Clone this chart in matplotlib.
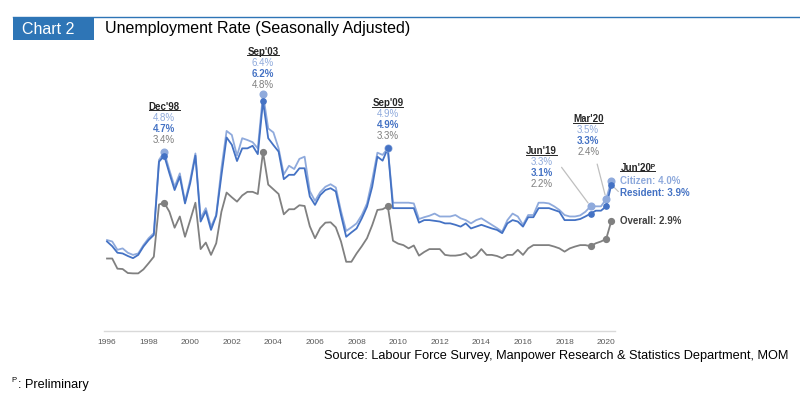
import numpy as np
import pandas as pd
import matplotlib
matplotlib.use('Agg')
import matplotlib.pyplot as plt
from matplotlib.lines import Line2D
from matplotlib.patches import Rectangle

plt.rcParams['font.family'] = ['Liberation Sans', 'DejaVu Sans']

# quarterly, seasonally adjusted (%), 1996Q1 - 2020Q2
quarters = pd.period_range('1996Q1', '2020Q2', freq='Q')

citizen = [2.37, 2.33, 2.10, 2.14, 2.02, 1.96, 2.00, 2.23, 2.42, 2.56,
           4.58, 4.80, 4.30, 3.84, 4.21, 3.43, 4.03, 4.76, 2.97, 3.25,
           2.74, 3.06, 4.35, 5.38, 5.27, 4.70, 5.18, 5.13, 5.07, 4.90,
           6.40, 5.45, 5.34, 4.90, 4.18, 4.42, 4.33, 4.61, 4.67, 3.72,
           3.45, 3.69, 3.84, 3.91, 3.82, 3.17, 2.62, 2.72, 2.83, 3.06,
           3.38, 4.03, 4.78, 4.72, 4.90, 3.40, 3.40, 3.40, 3.40, 3.38,
           2.95, 3.00, 3.04, 3.10, 3.02, 3.02, 3.02, 3.06, 2.97, 2.92,
           2.83, 2.92, 2.97, 2.88, 2.79, 2.70, 2.60, 2.92, 3.10, 3.02,
           2.79, 3.06, 3.06, 3.40, 3.40, 3.38, 3.30, 3.20, 3.06, 3.02,
           3.02, 3.05, 3.15, 3.30, 3.30, 3.30, 3.50, 4.00]

resident = [2.33, 2.20, 2.02, 2.00, 1.93, 1.87, 1.96, 2.19, 2.37, 2.51,
            4.53, 4.70, 4.21, 3.75, 4.12, 3.38, 3.94, 4.70, 2.88, 3.17,
            2.65, 3.04, 4.15, 5.20, 5.00, 4.55, 4.90, 4.90, 4.97, 4.74,
            6.20, 5.18, 4.99, 4.81, 4.05, 4.17, 4.17, 4.35, 4.35, 3.57,
            3.34, 3.61, 3.75, 3.80, 3.71, 3.06, 2.46, 2.58, 2.69, 2.97,
            3.29, 3.84, 4.67, 4.56, 4.90, 3.25, 3.25, 3.25, 3.25, 3.25,
            2.85, 2.92, 2.92, 2.90, 2.88, 2.83, 2.83, 2.79, 2.74, 2.83,
            2.69, 2.74, 2.79, 2.74, 2.69, 2.65, 2.56, 2.83, 2.92, 2.88,
            2.74, 3.00, 3.00, 3.25, 3.25, 3.25, 3.20, 3.15, 2.92, 2.92,
            2.92, 2.95, 3.02, 3.10, 3.18, 3.18, 3.30, 3.90]

overall = [1.86, 1.86, 1.58, 1.57, 1.46, 1.45, 1.45, 1.56, 1.73, 1.91,
           3.35, 3.40, 3.15, 2.71, 3.02, 2.46, 2.92, 3.40, 2.12, 2.30,
           1.96, 2.28, 3.15, 3.68, 3.55, 3.43, 3.60, 3.70, 3.70, 3.64,
           4.80, 3.90, 3.77, 3.64, 3.08, 3.22, 3.22, 3.33, 3.31, 2.75,
           2.42, 2.70, 2.85, 2.86, 2.72, 2.33, 1.77, 1.77, 2.00, 2.20,
           2.42, 2.78, 3.20, 3.22, 3.30, 2.35, 2.27, 2.23, 2.14, 2.22,
           1.94, 2.04, 2.12, 2.12, 2.12, 1.96, 1.94, 1.94, 1.96, 2.01,
           1.87, 1.95, 2.12, 1.96, 1.96, 1.93, 1.87, 1.96, 1.96, 2.10,
           1.96, 2.14, 2.23, 2.23, 2.23, 2.23, 2.19, 2.14, 2.05, 2.14,
           2.19, 2.23, 2.23, 2.20, 2.28, 2.33, 2.40, 2.90]

year_ticks = list(range(1996, 2021, 2))

# highlighted quarters and where their text blocks sit (pixel offset from citizen dot)
highlights = [("Dec'98", '1998Q4', (0, 45)),
              ("Sep'03", '2003Q3', (0, 42)),
              ("Sep'09", '2009Q3', (0, 45)),
              ("Jun'19", '2019Q2', (-49, 55)),
              ("Mar'20", '2020Q1', (-18, 80))]
latest_label = "Jun'20ᴾ"

c_cit = '#8FAADC'
c_res = '#4472C4'
c_all = '#808080'
c_head = '#2E75B6'

t = quarters.year + (quarters.quarter - 1) / 4.0

fig = plt.figure(figsize=(8.0, 3.97), dpi=100)
ax = fig.add_axes([103.9 / 800, 66 / 397, 510.6 / 800, 258.75 / 397])

ax.plot(t, overall, color=c_all, lw=1.3, zorder=2)
ax.plot(t, citizen, color=c_cit, lw=1.3, zorder=3)
ax.plot(t, resident, color=c_res, lw=1.3, zorder=4)

ax.set_xlim(1995.85, 2020.4)
ax.set_ylim(-0.14, 7.0)
for s in ['top', 'right', 'left']:
    ax.spines[s].set_visible(False)
ax.spines['bottom'].set_color('#D9D9D9')
ax.spines['bottom'].set_linewidth(1.0)
ax.set_yticks([])
ax.set_xticks(year_ticks)
ax.set_xticklabels([str(y) for y in year_ticks])
ax.tick_params(axis='x', length=0, pad=6, labelsize=6, labelcolor='#595959')

date_texts = []
step = 11
for label, q, (dx, dy) in highlights:
    i = list(quarters.astype(str)).index(q)
    x = t[i]
    ax.plot(x, overall[i], 'o', color=c_all, ms=4.2, zorder=5, clip_on=False)
    ax.plot(x, citizen[i], 'o', color=c_cit, ms=4.8, zorder=6, clip_on=False)
    ax.plot(x, resident[i], 'o', color=c_res, ms=3.8, zorder=7, clip_on=False)
    rows = [(label, '#262626', 'bold'),
            ('%.1f%%' % citizen[i], c_cit, 'normal'),
            ('%.1f%%' % resident[i], c_res, 'bold'),
            ('%.1f%%' % overall[i], '#7F7F7F', 'normal')]
    for k, (txt, col, w) in enumerate(rows):
        tx = ax.annotate(txt, xy=(x, citizen[i]), xytext=(dx, dy - k * step),
                         textcoords='offset pixels', ha='center', va='center',
                         fontsize=7, color=col, fontweight=w)
        if k == 0:
            date_texts.append(tx)
    if dx != 0:
        start = (dx + 20, dy - 16) if label == "Jun'19" else (dx + 9, dy - 45)
        ax.annotate('', xy=(x, citizen[i]), xytext=start, textcoords='offset pixels',
                    arrowprops=dict(arrowstyle='-', color='#BFBFBF', lw=0.9,
                                    shrinkA=0, shrinkB=3))

# latest quarter
x = t[-1]
ax.plot(x, overall[-1], 'o', color=c_all, ms=4.2, zorder=5, clip_on=False)
ax.plot(x, citizen[-1], 'o', color=c_cit, ms=4.8, zorder=6, clip_on=False)
ax.plot(x, resident[-1], 'o', color=c_res, ms=3.8, zorder=7, clip_on=False)
tx = ax.annotate(latest_label, xy=(x, citizen[-1]), xytext=(9, 13), textcoords='offset pixels',
                 ha='left', va='center', fontsize=7, color='#262626', fontweight='bold')
date_texts.append(tx)
ax.annotate('Citizen: %.1f%%' % citizen[-1], xy=(x, citizen[-1]), xytext=(9, 0),
            textcoords='offset pixels', ha='left', va='center', fontsize=7,
            color=c_cit, fontweight='bold')
ax.annotate('Resident: %.1f%%' % resident[-1], xy=(x, resident[-1]), xytext=(9, -8),
            textcoords='offset pixels', ha='left', va='center', fontsize=7,
            color=c_res, fontweight='bold')
ax.annotate('', xy=(x, resident[-1]), xytext=(7, -7), textcoords='offset pixels',
            arrowprops=dict(arrowstyle='-', color='#BFBFBF', lw=0.8, shrinkA=0, shrinkB=2))
ax.annotate('Overall: %.1f%%' % overall[-1], xy=(x, overall[-1]), xytext=(9, 0),
            textcoords='offset pixels', ha='left', va='center', fontsize=7,
            color='#404040', fontweight='bold')

# header
fig.add_artist(Line2D([13 / 800, 1.0], [1 - 16.7 / 397] * 2, color=c_head, lw=1.0))
fig.add_artist(Rectangle((13 / 800, 1 - 40 / 397), 81 / 800, 23.3 / 397,
                         color=c_head, lw=0))
fig.text(22 / 800, 1 - 29 / 397, 'Chart 2', color='white', fontsize=11.5,
         ha='left', va='center')
fig.text(105 / 800, 1 - 29 / 397, 'Unemployment Rate (Seasonally Adjusted)',
         color='black', fontsize=11.5, ha='left', va='center')

fig.text(788 / 800, 1 - 356 / 397,
         'Source: Labour Force Survey, Manpower Research & Statistics Department, MOM',
         color='black', fontsize=9.2, ha='right', va='center')
fig.text(11.5 / 800, 1 - 380.5 / 397, 'P', fontsize=5.5, ha='left', va='center')
fig.text(18.5 / 800, 1 - 385 / 397, ': Preliminary', fontsize=9.2, ha='left', va='center')

# underline the date labels
fig.canvas.draw()
r = fig.canvas.get_renderer()
for tx in date_texts:
    bb = tx.get_window_extent(r)
    yl = bb.y0 + 1.5
    fig.add_artist(Line2D([bb.x0 / 800, bb.x1 / 800], [yl / 397, yl / 397],
                          color='#262626', lw=0.7))

fig.savefig('out.png', dpi=100)
